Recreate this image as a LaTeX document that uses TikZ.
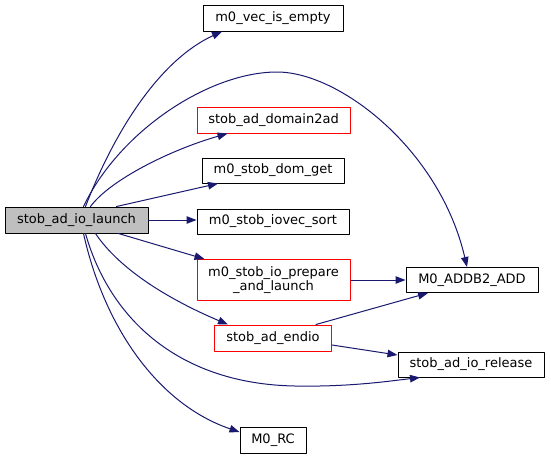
\documentclass[tikz,border=0pt]{standalone}
\usepackage{fontspec}
\setmainfont{DejaVu Sans}
\usetikzlibrary{arrows.meta}
\definecolor{Edge}{RGB}{25,25,112}
\definecolor{Cur}{RGB}{191,191,191}
\definecolor{Trunc}{RGB}{255,0,0}
\tikzset{
  fn/.style={draw=black,line width=1pt,fill=white,minimum height=26pt,inner sep=0pt,
    font=\fontsize{13}{14.5}\selectfont,align=center},
  fnred/.style={fn,draw=Trunc},
  fncur/.style={fn,fill=Cur},
  call/.style={draw=Edge,color=Edge,line width=1pt,-{Triangle[length=10pt,width=7.5pt]}}
}

\begin{document}
\begin{tikzpicture}[x=1pt,y=-1pt,line cap=round,line join=round]
\path[use as bounding box] (0,0) rectangle (551,459);
% nodes
\node[fncur,minimum width=143pt] (launch) at (76.5,220) {stob\_ad\_io\_launch};
\node[fn,minimum width=140pt] (vecempty) at (273,18) {m0\_vec\_is\_empty};
\node[fnred,minimum width=153pt] (domain2ad) at (273.5,120) {stob\_ad\_domain2ad};
\node[fn,minimum width=142pt,minimum height=25pt] (domget) at (273,170.5) {m0\_stob\_dom\_get};
\node[fn,minimum width=152pt,minimum height=25pt] (iovecsort) at (273,221.5) {m0\_stob\_iovec\_sort};
\node[fnred,minimum width=153pt,minimum height=41pt] (prepare) at (273.5,280) {m0\_stob\_io\_prepare\\\_and\_launch};
\node[fnred,minimum width=117pt] (endio) at (273,338) {stob\_ad\_endio};
\node[fn,minimum width=66pt] (rc) at (273,440) {M0\_RC};
\node[fn,minimum width=132pt,minimum height=25pt] (addb2) at (472,280) {M0\_ADDB2\_ADD};
\node[fn,minimum width=146pt,minimum height=25pt] (release) at (471,364.5) {stob\_ad\_io\_release};
% calls
\draw[call] ([xshift=9]launch.north) .. controls (115,130) and (160,60) .. ([xshift=-51]vecempty.south);
\draw[call] ([xshift=7]launch.north) .. controls (120,130) and (210,72) .. (277,72)
  .. controls (340,72) and (440,150) .. ([xshift=-5]addb2.north);
\draw[call] ([xshift=14]launch.north) .. controls (110,180) and (170,150) .. ([xshift=-46]domain2ad.south);
\draw[call] ([xshift=40]launch.north) -- ([xshift=-55]domget.south);
\draw[call] (launch.east) -- (launch.east -| iovecsort.west);
\draw[call] ([xshift=42]launch.south) -- ([xshift=-69]prepare.north);
\draw[call] ([xshift=19]launch.south) .. controls (120,270) and (170,300) .. ([xshift=-45]endio.north);
\draw[call] ([xshift=9]launch.south) .. controls (110,320) and (180,384) .. (295,386)
  .. controls (350,387) and (390,381) .. ([xshift=-51]release.south);
\draw[call] ([xshift=7]launch.south) .. controls (105,330) and (160,405) .. ([yshift=8]rc.west);
\draw[call] ([xshift=0.5]prepare.east) -- (addb2.west);
\draw[call] ([xshift=43]endio.north) -- ([xshift=-44]addb2.south);
\draw[call] ([yshift=-7]endio.east) -- ([yshift=9.5]release.west);
\end{tikzpicture}
\end{document}
